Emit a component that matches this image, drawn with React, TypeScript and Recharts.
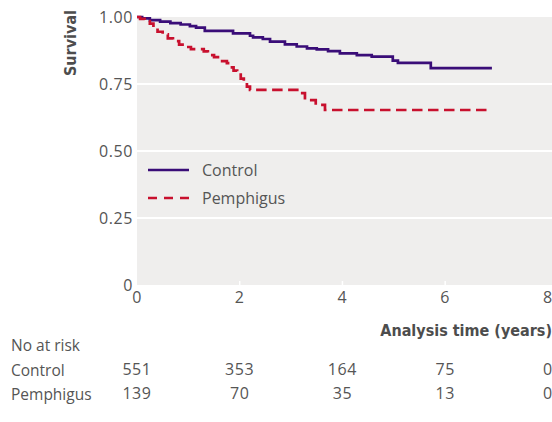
import React from "react";
import { LineChart, Line, XAxis, YAxis, CartesianGrid, ReferenceLine } from "recharts";

// ---- data ----
const CONTROL_T = [0, 0.1, 0.25, 0.45, 0.65, 0.85, 1.03, 1.15, 1.32, 1.87, 2.2, 2.26, 2.45, 2.59, 2.88, 3.11, 3.31, 3.5, 3.72, 3.95, 4.28, 4.57, 4.98, 5.08, 5.72, 6.91];
const CONTROL_S = [1.0, 0.995, 0.988, 0.983, 0.977, 0.972, 0.966, 0.96, 0.948, 0.939, 0.93, 0.924, 0.918, 0.908, 0.898, 0.89, 0.883, 0.879, 0.873, 0.864, 0.858, 0.852, 0.837, 0.829, 0.809, 0.809];

const PEMPH_T = [0, 0.06, 0.15, 0.25, 0.32, 0.4, 0.5, 0.6, 0.7, 0.82, 0.95, 1.05, 1.3, 1.38, 1.5, 1.62, 1.75, 1.82, 1.88, 1.95, 2.02, 2.08, 2.14, 2.2, 3.12, 3.27, 3.48, 3.66, 6.91];
const PEMPH_S = [1.0, 0.993, 0.985, 0.975, 0.962, 0.945, 0.935, 0.92, 0.91, 0.897, 0.888, 0.88, 0.872, 0.858, 0.85, 0.835, 0.828, 0.812, 0.8, 0.785, 0.77, 0.755, 0.74, 0.728, 0.716, 0.69, 0.672, 0.653, 0.653];

const X_TICKS = [0, 2, 4, 6, 8];
const Y_TICKS = [0, 0.25, 0.5, 0.75, 1];
const RISK_CONTROL = [551, 353, 164, 75, 0];
const RISK_PEMPH = [139, 70, 35, 13, 0];
const SERIES_NAMES = ["Control", "Pemphigus"];
const ROW_LABELS = ["No at risk", "Control", "Pemphigus"];

const controlData = CONTROL_T.map((t, i) => ({ t, s: CONTROL_S[i] }));
const pemphData = PEMPH_T.map((t, i) => ({ t, s: PEMPH_S[i] }));

const PURPLE = "#3a0d78";
const RED = "#c8102e";
const TEXT = "#555555";
const BG = "#efeeed";
const FONT = '"Open Sans", "Noto Sans", sans-serif';
const BOLD_FONT = '"DejaVu Sans Condensed", "DejaVu Sans", sans-serif';

const tickStyle = { fontSize: 16, fill: TEXT, fontFamily: FONT };

export default function App() {
  return (
    <div style={{ position: "absolute", left: 0, top: 0, width: 552, height: 422, background: "#fff", fontFamily: FONT }}>
      <style>{`.km .recharts-cartesian-axis-tick-value { letter-spacing: 0.6px; }`}</style>
      <div className="km" style={{ position: "absolute", left: 0, top: 0 }}>
        <LineChart width={552} height={422} margin={{ top: 17, right: 0, left: 0, bottom: 23 }}>
          <CartesianGrid fill={BG} stroke="#ffffff" strokeWidth={2} vertical={false} horizontalValues={[0.25, 0.5, 0.75]} />
          <XAxis
            xAxisId="main"
            dataKey="t"
            type="number"
            domain={[0, 8.08]}
            ticks={X_TICKS}
            interval={0}
            allowDataOverflow
            tickLine={false}
            axisLine={false}
            tickSize={0}
            tickMargin={7}
            height={60}
            tick={tickStyle}
          />
          <XAxis
            xAxisId="rc"
            dataKey="t"
            type="number"
            domain={[0, 8.08]}
            ticks={X_TICKS}
            interval={0}
            allowDataOverflow
            tickLine={false}
            axisLine={false}
            tickSize={0}
            tickMargin={19}
            height={24}
            tick={tickStyle}
            tickFormatter={(v: number, i: number) => String(RISK_CONTROL[i])}
          />
          <XAxis
            xAxisId="rp"
            dataKey="t"
            type="number"
            domain={[0, 8.08]}
            ticks={X_TICKS}
            interval={0}
            allowDataOverflow
            tickLine={false}
            axisLine={false}
            tickSize={0}
            tickMargin={19}
            height={30}
            tick={tickStyle}
            tickFormatter={(v: number, i: number) => String(RISK_PEMPH[i])}
          />
          <YAxis
            type="number"
            domain={[0, 1]}
            ticks={Y_TICKS}
            interval={0}
            width={137}
            tickLine={false}
            axisLine={false}
            tickSize={0}
            tickMargin={4}
            tick={tickStyle}
            tickFormatter={(v: number) => (v === 0 ? "0" : v.toFixed(2))}
          />
          {[2, 4, 6].map((x) => (
            <ReferenceLine
              key={x}
              xAxisId="main"
              segment={[{ x, y: 0 }, { x, y: 0.015 }]}
              stroke="#ffffff"
              strokeWidth={1.5}
            />
          ))}
          <Line
            xAxisId="main"
            data={controlData}
            dataKey="s"
            type="stepAfter"
            stroke={PURPLE}
            strokeWidth={2.7}
            dot={false}
            isAnimationActive={false}
            name={SERIES_NAMES[0]}
          />
          <Line
            xAxisId="main"
            data={pemphData}
            dataKey="s"
            type="stepAfter"
            stroke={RED}
            strokeWidth={2.7}
            strokeDasharray="10.5 5.5"
            dot={false}
            isAnimationActive={false}
            name={SERIES_NAMES[1]}
          />
        </LineChart>
      </div>
      <svg width={552} height={422} style={{ position: "absolute", left: 0, top: 0, pointerEvents: "none" }}>
        <text
          x={70}
          y={43}
          transform="rotate(-90 70 43)"
          textAnchor="middle"
          dominantBaseline="central"
          fontFamily={BOLD_FONT}
          fontWeight="bold"
          fontSize={16}
          fill="#4d4d4d"
        >
          Survival
        </text>
        <text
          x={552}
          y={330}
          textAnchor="end"
          dominantBaseline="central"
          fontFamily={BOLD_FONT}
          fontWeight="bold"
          fontSize={16}
          fill="#4d4d4d"
        >
          Analysis time (years)
        </text>
        {ROW_LABELS.map((lbl, i) => (
          <text key={lbl} x={11} y={345 + i * 24.5} dominantBaseline="central" fontFamily={FONT} fontSize={15.5} fill={TEXT}>
            {lbl}
          </text>
        ))}
        <line x1={148} x2={189} y1={170} y2={170} stroke={PURPLE} strokeWidth={2.7} />
        <text x={202} y={170} dominantBaseline="central" fontFamily={FONT} fontSize={16} fill={TEXT}>
          {SERIES_NAMES[0]}
        </text>
        <line x1={148} x2={189} y1={198} y2={198} stroke={RED} strokeWidth={2.7} strokeDasharray="9 7" />
        <text x={202} y={198} dominantBaseline="central" fontFamily={FONT} fontSize={16} fill={TEXT}>
          {SERIES_NAMES[1]}
        </text>
      </svg>
    </div>
  );
}
